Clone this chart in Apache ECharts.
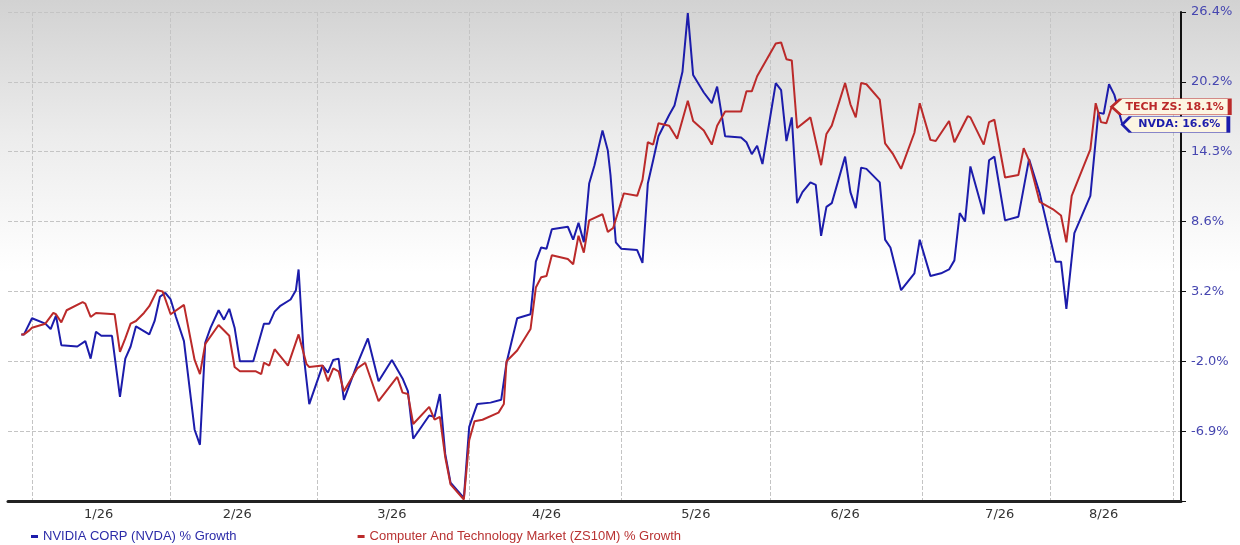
<!DOCTYPE html>
<html lang="en">
<head>
    <meta charset="UTF-8">
    <title>NVDA vs Computer and Technology Market</title>
    <style>
        html, body {
            margin: 0;
            padding: 0;
            background: #ffffff;
        }

        #chart-container {
            width: 1240px;
            height: 545px;
        }
    </style>
    <script src="https://cdn.jsdelivr.net/npm/echarts@6.0.0/dist/echarts.min.js"></script>
</head>
<body>
    <div id="chart-container"></div>

    <script>
        // x positions are slots on a fine day grid (0..440)
        var slotCount = 441;
        var monthStarts = [9, 61, 116, 173, 230, 286, 343, 391, 437];
        var monthLabelSlots = [34, 86, 144, 202, 258, 314, 372, 411];
        var monthLabels = ['1/26', '2/26', '3/26', '4/26', '5/26', '6/26', '7/26', '8/26'];

        // right axis (% growth, log-like spacing)
        var yFloor = -11.5;
        var yTickValues = [-6.9, -2.0, 3.2, 8.6, 14.3, 20.2, 26.4];

        // [slot, % growth]
        var nvda = [
            [5, 0.0], [6, 0.0], [9, 1.2], [14, 0.8], [16, 0.4], [18, 1.4], [20, -0.8], [26, -0.9], [29, -0.5], [31, -1.8],
            [33, 0.2], [35, -0.1], [39, -0.1], [42, -4.5], [44, -1.8], [46, -0.9], [48, 0.6], [53, 0.0], [55, 1.0], [57, 2.8],
            [59, 3.1], [61, 2.6], [63, 1.3], [66, -0.5], [70, -6.8], [72, -7.8], [74, -0.6], [76, 0.5], [79, 1.8], [81, 1.1],
            [83, 1.9], [85, 0.5], [87, -2.0], [92, -2.0], [96, 0.8], [98, 0.8], [100, 1.7], [102, 2.1], [106, 2.6], [108, 3.3],
            [109, 4.9], [111, -1.7], [113, -5.0], [118, -2.3], [120, -2.8], [122, -1.9], [124, -1.8], [126, -4.7], [131, -2.2], [135, -0.3],
            [139, -3.4], [144, -1.9], [148, -3.2], [150, -4.1], [152, -7.4], [158, -5.8], [160, -5.9], [162, -4.3], [164, -8.4], [166, -10.3],
            [171, -11.3], [173, -6.6], [176, -5.0], [181, -4.9], [185, -4.7], [187, -2.1], [191, 1.2], [196, 1.5], [198, 5.5], [200, 6.6],
            [202, 6.5], [204, 8.0], [210, 8.2], [212, 7.2], [214, 8.5], [216, 7.0], [218, 11.7], [220, 13.2], [223, 16.1], [225, 14.4],
            [226, 12.4], [228, 7.0], [230, 6.5], [236, 6.4], [238, 5.4], [240, 11.7], [242, 13.6], [244, 15.6], [248, 17.4], [250, 18.2],
            [253, 21.1], [255, 26.3], [257, 20.8], [261, 19.3], [264, 18.4], [266, 19.8], [269, 15.6], [275, 15.5], [277, 15.1], [279, 14.1],
            [281, 14.8], [283, 13.3], [288, 20.1], [290, 19.5], [292, 15.2], [294, 17.2], [296, 10.1], [298, 11.0], [301, 11.8], [303, 11.6],
            [305, 7.5], [307, 9.8], [309, 10.1], [314, 13.9], [316, 11.0], [318, 9.7], [320, 13.0], [322, 12.9], [327, 11.8], [329, 7.2],
            [331, 6.6], [335, 3.3], [340, 4.6], [342, 7.2], [346, 4.4], [350, 4.6], [353, 4.9], [355, 5.6], [357, 9.3], [359, 8.6],
            [361, 13.1], [366, 9.2], [368, 13.6], [370, 13.9], [374, 8.7], [379, 9.0], [383, 13.7], [387, 10.9], [393, 5.5], [395, 5.5],
            [397, 1.9], [400, 7.7], [406, 10.7], [409, 17.6], [411, 17.5], [413, 20.0], [415, 19.1], [418, 16.6]
        ];

        var tech = [
            [5, 0.0], [6, 0.0], [8, 0.3], [9, 0.5], [14, 0.8], [17, 1.6], [18, 1.5], [20, 0.9], [22, 1.8], [28, 2.4],
            [29, 2.3], [31, 1.3], [33, 1.6], [40, 1.5], [42, -1.3], [44, -0.3], [46, 0.8], [48, 1.0], [51, 1.6], [53, 2.1],
            [56, 3.3], [58, 3.2], [61, 1.5], [66, 2.2], [70, -1.9], [72, -2.9], [74, -0.7], [79, 0.7], [83, -0.1], [85, -2.4],
            [87, -2.7], [93, -2.7], [95, -2.9], [96, -2.1], [98, -2.3], [100, -1.1], [105, -2.3], [109, 0.0], [112, -2.2], [113, -2.4],
            [118, -2.3], [120, -3.4], [122, -2.5], [124, -2.7], [126, -4.1], [131, -2.5], [134, -2.1], [139, -4.8], [146, -3.1], [148, -4.2],
            [150, -4.3], [152, -6.4], [158, -5.2], [160, -6.1], [162, -5.9], [164, -8.6], [166, -10.4], [171, -11.4], [173, -7.5], [175, -6.2],
            [178, -6.1], [184, -5.6], [186, -5.0], [187, -2.0], [191, -1.2], [196, 0.4], [198, 3.5], [200, 4.3], [202, 4.4], [204, 6.0],
            [210, 5.7], [212, 5.3], [214, 7.5], [216, 6.2], [218, 8.7], [223, 9.2], [225, 7.8], [227, 8.1], [231, 10.9], [236, 10.7],
            [238, 12.0], [240, 15.1], [242, 14.9], [244, 16.7], [248, 16.5], [251, 15.4], [255, 18.6], [257, 16.9], [261, 16.1], [264, 14.9],
            [266, 16.5], [269, 17.7], [275, 17.7], [277, 19.4], [279, 19.4], [281, 20.7], [288, 23.6], [290, 23.7], [292, 22.2], [294, 22.1],
            [296, 16.3], [301, 17.2], [305, 13.2], [307, 15.8], [309, 16.5], [314, 20.1], [316, 18.3], [318, 17.2], [320, 20.1], [322, 20.0],
            [327, 18.7], [329, 15.0], [332, 14.1], [335, 12.9], [340, 15.9], [342, 18.4], [346, 15.3], [348, 15.2], [353, 16.9], [355, 15.1],
            [360, 17.3], [361, 17.2], [366, 14.9], [368, 16.8], [370, 17.0], [374, 12.2], [379, 12.4], [381, 14.6], [383, 13.6], [387, 10.2],
            [392, 9.6], [395, 9.1], [397, 7.0], [399, 10.7], [406, 14.5], [408, 18.4], [410, 16.8], [412, 16.7], [414, 18.1]
        ];

        var blue = '#1c1cab';
        var red = '#bb2a2a';

        // % growth -> position on the warped right axis (0 = floor, 1 = first tick ...)
        function toAxis(g) {
            var stops = [yFloor].concat(yTickValues);
            for (var k = 0; k < stops.length - 1; k++) {
                if (g <= stops[k + 1] || k === stops.length - 2) {
                    return k + (g - stops[k]) / (stops[k + 1] - stops[k]);
                }
            }
        }

        function mapSeries(points) {
            return points.map(function (p) { return [p[0], toAxis(p[1])]; });
        }

        var categories = [];
        for (var i = 0; i < slotCount; i++) categories.push(String(i));

        var tagPath = 'path://M0,8L9,0L120,0L120,16L9,16Z';

        function endTag(points, text, color, width) {
            var last = points[points.length - 1];
            return {
                silent: true,
                z: 20,
                symbol: tagPath,
                symbolKeepAspect: false,
                symbolSize: [width, 16],
                symbolOffset: [width / 2, 0],
                itemStyle: { color: '#fcf5e2', borderColor: color, borderWidth: 1.5 },
                label: {
                    show: true,
                    position: 'inside',
                    offset: [4, 0],
                    formatter: text + ': ' + last[1].toFixed(1) + '%',
                    color: color,
                    fontWeight: 'bold',
                    fontSize: 11,
                    fontFamily: 'DejaVu Sans'
                },
                data: [{ coord: [last[0], toAxis(last[1])] }]
            };
        }

        var myChart = echarts.init(document.getElementById('chart-container'));

        var option = {
            animation: false,
            backgroundColor: new echarts.graphic.LinearGradient(0, 0, 0, 1, [
                { offset: 0, color: '#d2d2d2' },
                { offset: 0.25, color: '#ececec' },
                { offset: 0.5, color: '#ffffff' },
                { offset: 1, color: '#ffffff' }
            ]),
            grid: {
                left: 8,
                right: 59,
                top: 12,
                height: 489
            },
            legend: {
                left: 26,
                top: 525,
                itemWidth: 7,
                itemHeight: 3,
                itemGap: 121,
                icon: 'rect',
                textStyle: { fontFamily: 'Liberation Sans', fontSize: 13 },
                data: [
                    { name: 'NVIDIA CORP (NVDA) % Growth', textStyle: { color: '#2b2ba8' } },
                    { name: 'Computer And Technology Market (ZS10M) % Growth', textStyle: { color: '#b83232' } }
                ]
            },
            xAxis: {
                type: 'category',
                data: categories,
                boundaryGap: false,
                axisLine: { lineStyle: { color: '#222', width: 3 } },
                axisTick: { show: false },
                axisLabel: {
                    interval: function (index) { return monthLabelSlots.indexOf(index) >= 0; },
                    formatter: function (value) {
                        var k = monthLabelSlots.indexOf(Number(value));
                        return k >= 0 ? monthLabels[k] : '';
                    },
                    color: '#333',
                    fontFamily: 'DejaVu Sans',
                    fontSize: 13,
                    margin: 7
                },
                splitLine: {
                    show: true,
                    interval: function (index) { return monthStarts.indexOf(index) >= 0; },
                    lineStyle: { type: 'dashed', color: '#c4c4c4', width: 1 }
                }
            },
            yAxis: {
                type: 'value',
                position: 'right',
                min: 0,
                max: yTickValues.length,
                interval: 1,
                axisLine: { show: true, lineStyle: { color: '#111', width: 2 } },
                axisTick: { show: true, length: 5, lineStyle: { color: '#111' } },
                axisLabel: {
                    formatter: function (v) {
                        var k = Math.round(v) - 1;
                        return k >= 0 ? yTickValues[k].toFixed(1) + '%' : '';
                    },
                    color: '#4646b0',
                    fontFamily: 'DejaVu Sans',
                    fontSize: 13,
                    margin: 10
                },
                splitLine: { lineStyle: { type: 'dashed', color: '#c4c4c4', width: 1 } }
            },
            series: [
                {
                    name: 'NVIDIA CORP (NVDA) % Growth',
                    type: 'line',
                    data: mapSeries(nvda),
                    showSymbol: false,
                    color: blue,
                    lineStyle: { width: 2, color: blue },
                    z: 3,
                    markPoint: endTag(nvda, 'NVDA', blue, 106)
                },
                {
                    name: 'Computer And Technology Market (ZS10M) % Growth',
                    type: 'line',
                    data: mapSeries(tech),
                    showSymbol: false,
                    color: red,
                    lineStyle: { width: 2, color: red },
                    z: 4,
                    markPoint: endTag(tech, 'TECH ZS', red, 118)
                }
            ]
        };

        myChart.setOption(option);
    </script>
</body>
</html>
